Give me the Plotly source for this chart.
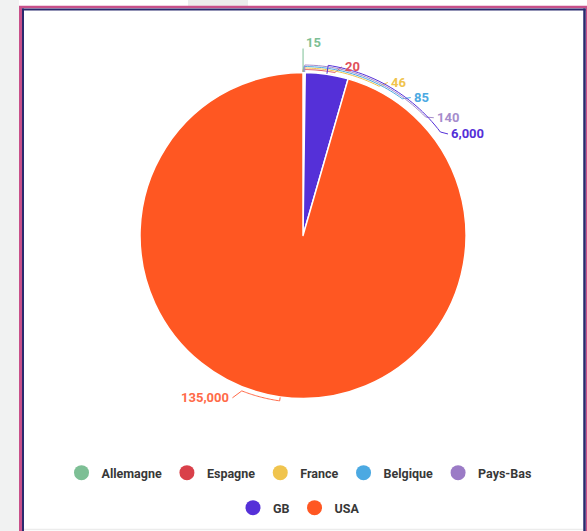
import math
import plotly.graph_objects as go

countries = ["Allemagne", "Espagne", "France", "Belgique", "Pays-Bas", "GB", "USA"]
values = [15, 20, 46, 85, 140, 6000, 135000]
colors = ["#7dbf95", "#d9404a", "#f0c44e", "#4ba9e2", "#9b7bc6", "#5530d8", "#ff5722"]
label_colors = ["#7dbf95", "#e0505a", "#f0c44e", "#4ba9e2", "#a58ccc", "#5530d8", "#ff6a48"]

W, H = 587, 531
CX, CY, R = 303, 235.5, 163  # pie centre / radius in px (layout)

# leader-line styling (layout only)
arc_r = [187, 166, 167.5, 169, 170.5, 172, 167]
end_ang = [None, 13, 29, 38, 48, 55, 203.5]
end_r = [187, 173, 175, 175, 176, 177, 177]
anchors = ["left_bottom", "left", "left", "left", "left", "left", "right"]


def px2paper(px, py):
    return px / W, 1 - py / H


def polar(r, ang):
    a = math.radians(ang)
    return CX + r * math.sin(a), CY - r * math.cos(a)


fig = go.Figure()
fig.add_trace(go.Pie(
    labels=countries,
    values=values,
    sort=False,
    direction="clockwise",
    rotation=0,
    marker=dict(colors=colors, line=dict(color="white", width=1.5)),
    textinfo="none",
    hoverinfo="label+value",
    showlegend=False,
    domain=dict(x=[(CX - R) / W, (CX + R) / W], y=[1 - (CY + R) / H, 1 - (CY - R) / H]),
))

first_row = countries[:5]
for c, col in zip(countries, colors):
    fig.add_trace(go.Scatter(
        x=[None], y=[None], mode="markers", name=c,
        marker=dict(symbol="circle", size=15, color=col),
        legend="legend" if c in first_row else "legend2",
    ))

total = sum(values)
shapes = []
annotations = []
cum = 0
for i, v in enumerate(values):
    mid = 360 * (cum + v / 2) / total
    cum += v
    ea = mid if end_ang[i] is None else end_ang[i]
    pts = [polar(R + 0.5, mid), polar(arc_r[i], mid)]
    if end_ang[i] is not None:
        a0, a1 = mid, ea - 2 if ea > mid else ea + 2
        n = 30
        for k in range(1, n + 1):
            pts.append(polar(arc_r[i], a0 + (a1 - a0) * k / n))
    pts.append(polar(end_r[i], ea))
    path = "M " + " L ".join("%.5f,%.5f" % px2paper(*p) for p in pts)
    shapes.append(dict(type="path", xref="paper", yref="paper", path=path,
                       line=dict(color=label_colors[i], width=1)))
    ex, ey = px2paper(*pts[-1])
    anc = anchors[i]
    annotations.append(dict(
        x=ex, y=ey, xref="paper", yref="paper", showarrow=False,
        text="{:,}".format(v),
        xanchor="right" if anc == "right" else "left",
        yanchor="bottom" if anc == "left_bottom" else "middle",
        xshift=-1 if anc == "right" else 1,
        yshift=-3 if anc == "left_bottom" else 0,
        font=dict(family="Roboto", size=13, color=label_colors[i], weight="bold"),
    ))

shapes += [
    dict(type="rect", xref="paper", yref="paper", x0=0, x1=19 / W, y0=0, y1=1,
         fillcolor="#f1f2f2", line=dict(width=0), layer="below"),
    dict(type="rect", xref="paper", yref="paper", x0=188 / W, x1=248 / W, y0=1 - 6 / H, y1=1,
         fillcolor="#ececec", line=dict(width=0), layer="below"),
    # pink outer frame
    dict(type="line", xref="paper", yref="paper", x0=20.5 / W, x1=20.5 / W, y0=-0.1, y1=1 - 6 / H,
         line=dict(color="#c8508a", width=3)),
    dict(type="line", xref="paper", yref="paper", x0=19 / W, x1=1.1, y0=1 - 7 / H, y1=1 - 7 / H,
         line=dict(color="#c8508a", width=2.5)),
    dict(type="line", xref="paper", yref="paper", x0=586.5 / W, x1=586.5 / W, y0=-0.1, y1=1 - 7 / H,
         line=dict(color="#c8508a", width=1.5)),
    # navy inner frame
    dict(type="line", xref="paper", yref="paper", x0=23 / W, x1=23 / W, y0=-0.1, y1=1 - 8.5 / H,
         line=dict(color="#2a2a6e", width=2)),
    dict(type="line", xref="paper", yref="paper", x0=22 / W, x1=585.5 / W, y0=1 - 9.5 / H, y1=1 - 9.5 / H,
         line=dict(color="#2a2a6e", width=2)),
    dict(type="line", xref="paper", yref="paper", x0=584.5 / W, x1=584.5 / W, y0=-0.1, y1=1 - 8.5 / H,
         line=dict(color="#2a2a6e", width=2.5)),
    dict(type="line", xref="paper", yref="paper", x0=24 / W, x1=583 / W, y0=1.5 / H, y1=1.5 / H,
         line=dict(color="#ececec", width=1.5)),
]

legend_font = dict(family="Roboto", size=12.5, color="#383838", weight="bold")
fig.update_layout(
    width=W, height=H,
    margin=dict(l=0, r=0, t=0, b=0, autoexpand=False),
    paper_bgcolor="white",
    plot_bgcolor="rgba(0,0,0,0)",
    xaxis=dict(visible=False),
    yaxis=dict(visible=False),
    shapes=shapes,
    annotations=annotations,
    legend=dict(orientation="h", x=299 / W, xanchor="center", y=1 - 473 / H, yanchor="middle",
                font=legend_font, itemwidth=30),
    legend2=dict(orientation="h", x=299 / W, xanchor="center", y=1 - 508 / H, yanchor="middle",
                 font=legend_font, itemwidth=30),
)

fig.write_html("out.html", config={"displayModeBar": False},
               post_script="document.body.style.margin='0px';document.body.style.overflow='hidden';")
